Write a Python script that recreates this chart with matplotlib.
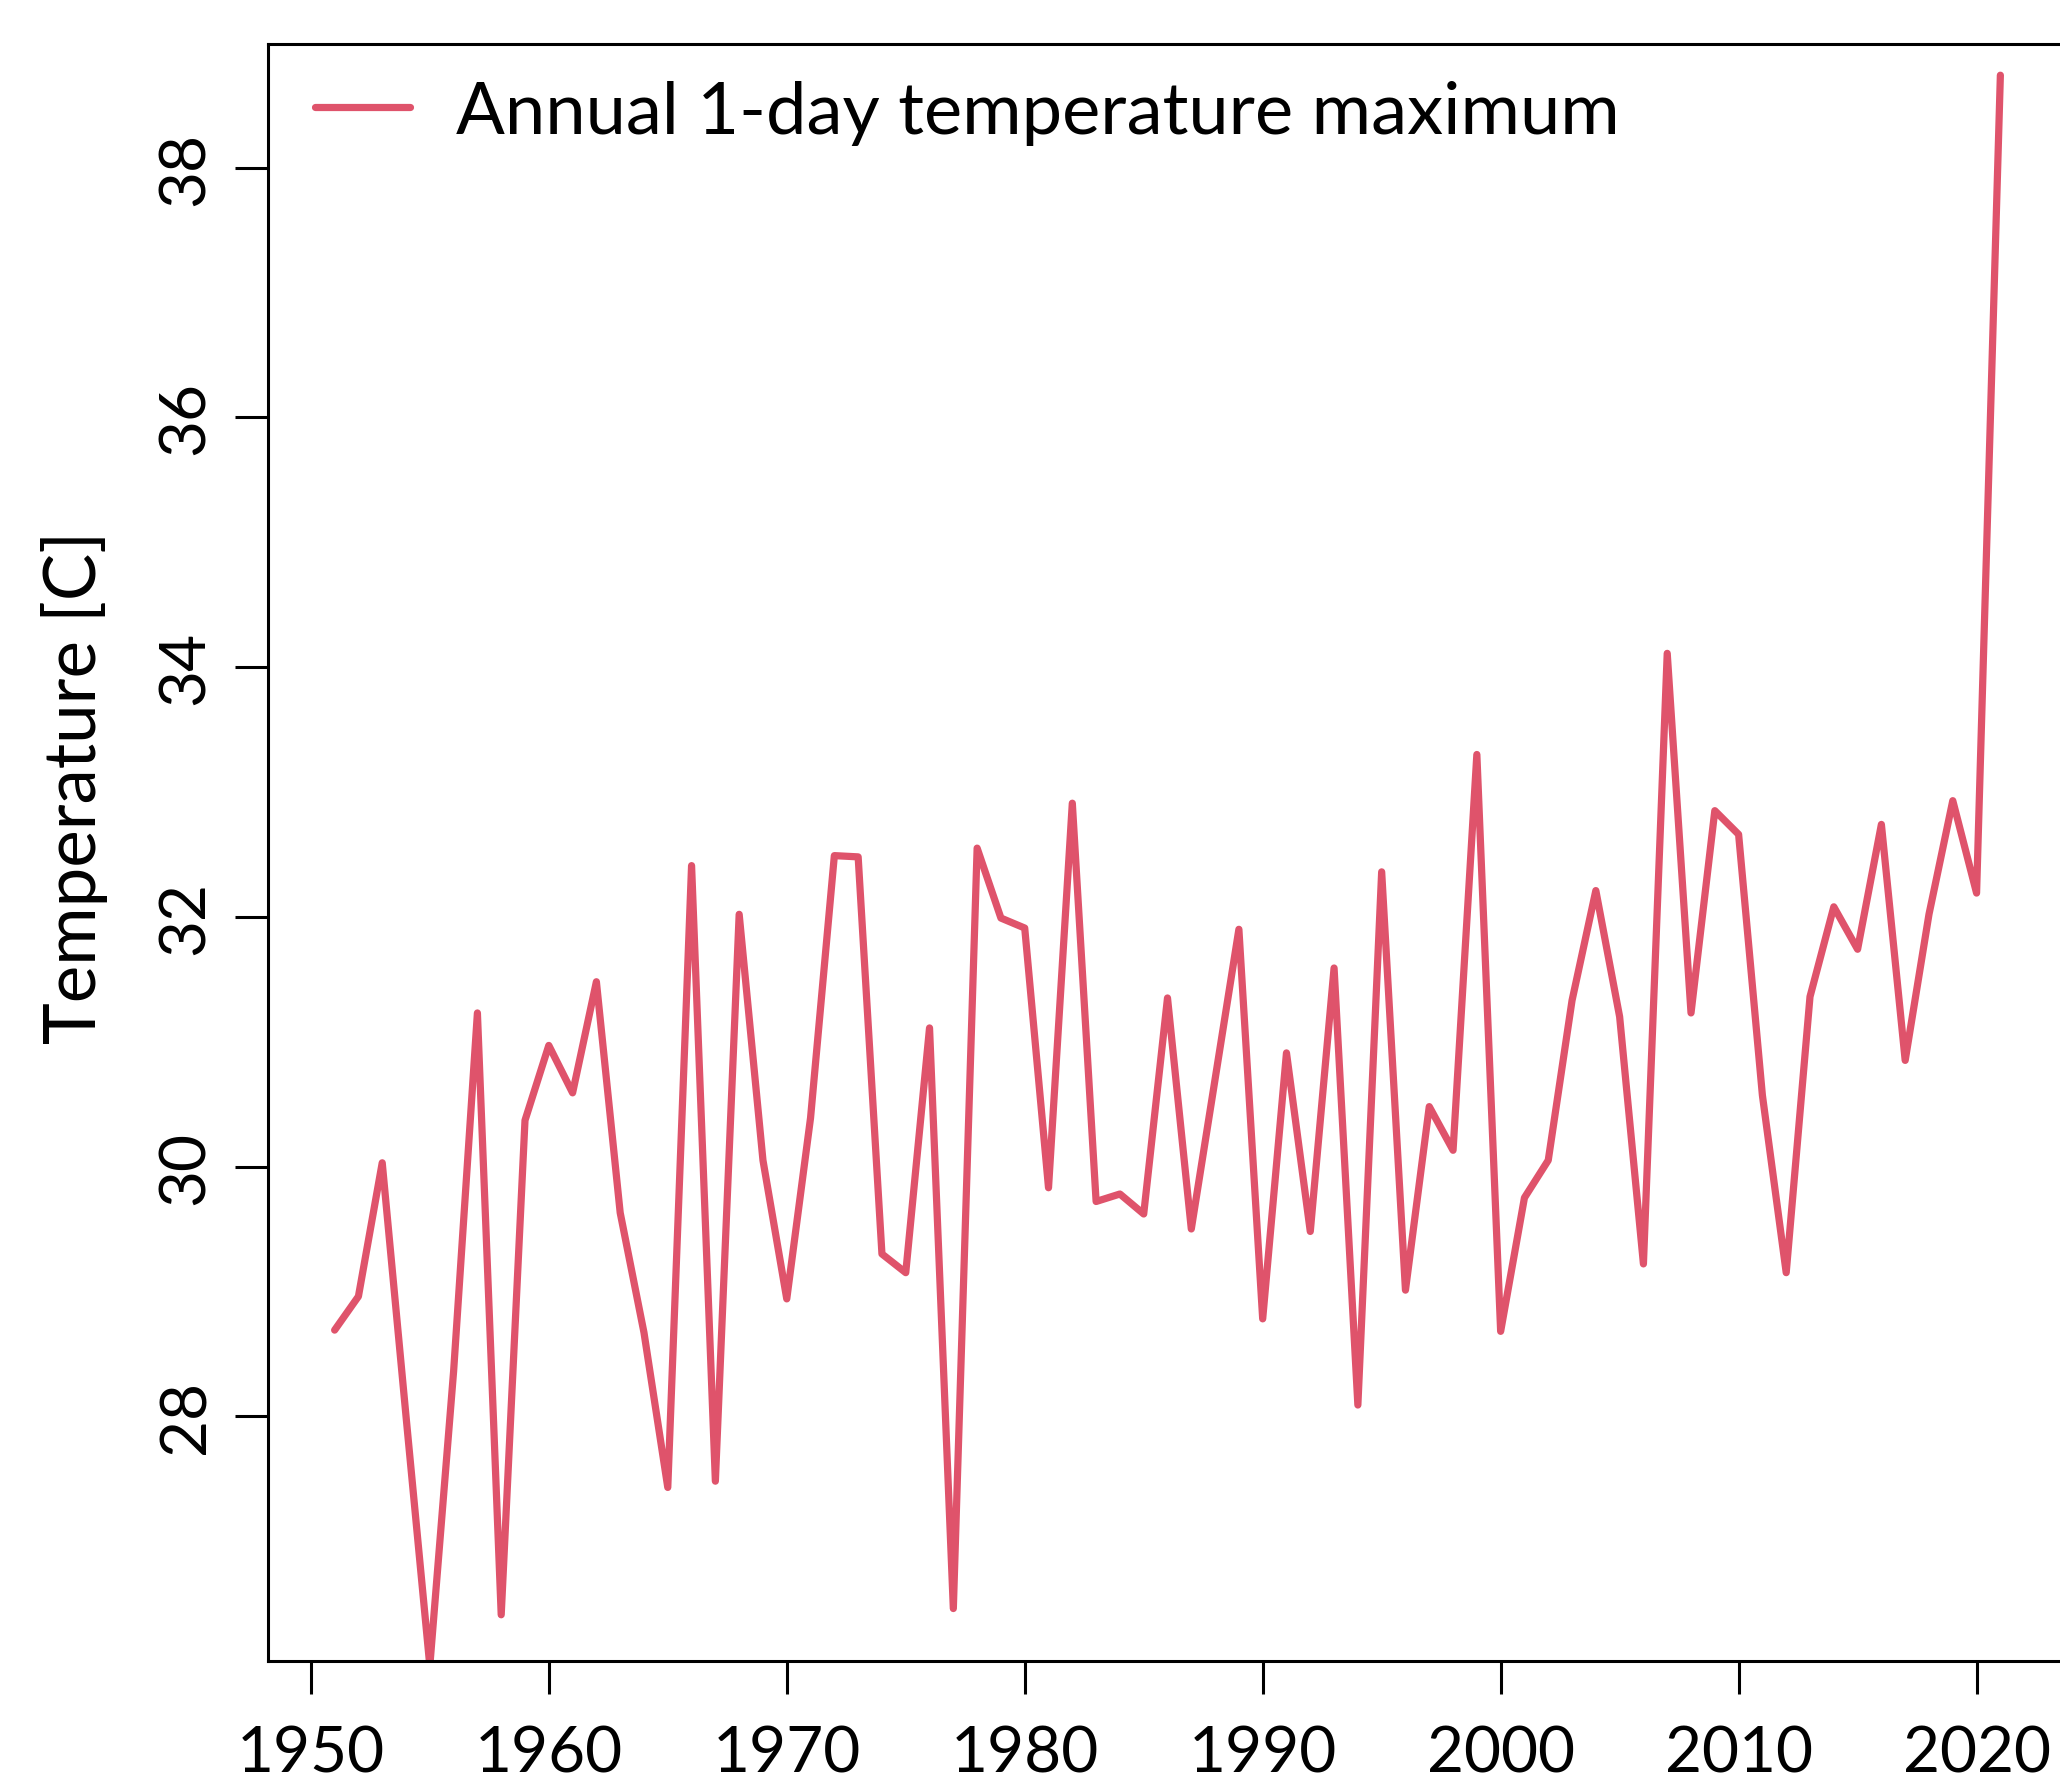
import matplotlib.pyplot as plt
import numpy as np

plt.rcParams['font.family'] = ['Lato', 'DejaVu Sans']

years = list(range(1951, 2022))
tmax = [28.69, 28.96, 30.03, 28.0, 26.0, 28.36, 31.23, 26.41, 30.37, 30.97,
        30.59, 31.48, 29.63, 28.67, 27.43, 32.41, 27.48, 32.02, 30.05, 28.94,
        30.39, 32.49, 32.48, 29.30, 29.15, 31.11, 26.46, 32.55, 31.99, 31.91,
        29.83, 32.91, 29.72, 29.78, 29.62, 31.35, 29.50, 30.70, 31.90, 28.78,
        30.91, 29.48, 31.59, 28.09, 32.36, 29.01, 30.48, 30.13, 33.30, 28.68,
        29.75, 30.05, 31.33, 32.21, 31.20, 29.22, 34.11, 31.23, 32.85, 32.66,
        30.57, 29.15, 31.36, 32.08, 31.74, 32.74, 30.85, 32.02, 32.93, 32.19,
        38.74]
xticks = [1950, 1960, 1970, 1980, 1990, 2000, 2010, 2020]
yticks = [28, 30, 32, 34, 36, 38]

W, H = 2060, 1781
fig = plt.figure(figsize=(W / 100, H / 100), dpi=100)
ax = fig.add_axes([268 / W, 1 - 1662 / H, (2067 - 268) / W, (1662 - 45) / H])

ax.plot(years, tmax, color='#DF536B', linewidth=5.2, solid_joinstyle='round',
        solid_capstyle='round', label='Annual 1-day temperature maximum')

ax.set_xlim(1948.2, 2023.8)
ax.set_ylim(26.04, 38.99)
ax.set_xticks(xticks)
ax.set_yticks(yticks)
ax.tick_params(axis='both', length=24, width=2.2, labelsize=46, pad=22)
ax.tick_params(axis='y', pad=14)
for lab in ax.get_yticklabels():
    lab.set_rotation(90)
    lab.set_va('center')
for s in ax.spines.values():
    s.set_linewidth(2.2)

fig.text(75 / W, 1 - 787 / H, 'Temperature [C]', rotation=90,
         ha='center', va='center', fontsize=51)

ax.legend(loc='upper left', frameon=False, fontsize=52, handlelength=1.31,
          handletextpad=0.64, borderaxespad=0.25, bbox_to_anchor=(0.0, 1.007))

fig.savefig('out.png', dpi=100, facecolor='white')
